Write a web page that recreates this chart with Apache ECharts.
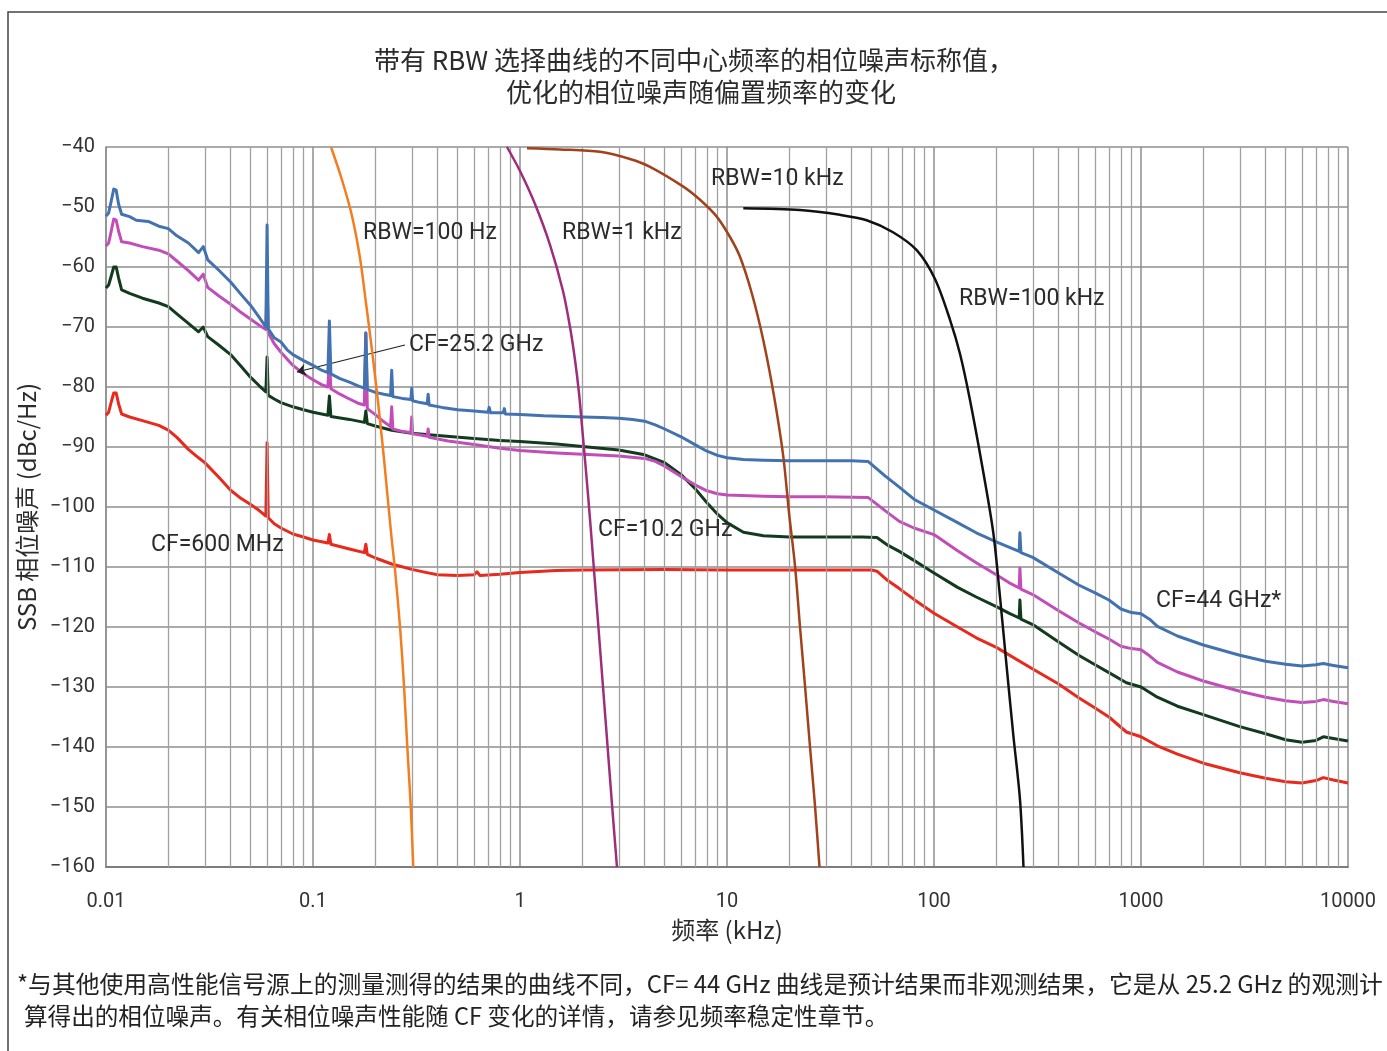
<!DOCTYPE html>
<html>
<head>
<meta charset="utf-8">
<title>相位噪声</title>
<script src="https://cdn.jsdelivr.net/npm/echarts@6/dist/echarts.min.js"></script>
<style>
html,body{margin:0;padding:0;background:#fff;}
#chart{width:1387px;height:1051px;}
</style>
</head>
<body>
<div id="chart"></div>
<script>
// 数据: [偏置频率 (kHz), 相位噪声 (dBc/Hz)]
var xTickLabels = ['0.01', '0.1', '1', '10', '100', '1000', '10000'];

var cf44 = [
  [0.01,-51.5],[0.0103,-51],[0.0106,-49],[0.0109,-47],[0.0112,-47.2],[0.0115,-49.5],[0.0119,-51.2],[0.013,-51.6],[0.014,-52.2],[0.016,-52.4],
  [0.018,-53.2],[0.02,-53.6],[0.022,-54.8],[0.025,-56],[0.028,-57.6],[0.0295,-56.6],[0.031,-58.8],[0.035,-60.5],[0.04,-62.5],[0.045,-64.6],
  [0.05,-66.4],[0.055,-68.4],[0.0592,-70],[0.06,-53],[0.0608,-70.3],[0.065,-71.8],[0.07,-72.5],[0.075,-73.8],[0.08,-74.6],[0.09,-75.6],
  [0.1,-76.4],[0.11,-77.2],[0.118,-77.6],[0.12,-69],[0.122,-77.8],[0.135,-78.6],[0.15,-79.2],[0.165,-79.8],[0.177,-80.2],[0.18,-71],
  [0.183,-80.4],[0.2,-80.9],[0.22,-81.2],[0.237,-81.4],[0.24,-77.2],[0.243,-81.6],[0.27,-81.9],[0.297,-82.1],[0.3,-80.2],[0.303,-82.3],
  [0.33,-82.6],[0.356,-82.8],[0.36,-81.2],[0.364,-83],[0.42,-83.4],[0.5,-83.8],[0.6,-84],[0.7,-84.2],[0.71,-83.4],[0.72,-84.3],
  [0.83,-84.3],[0.84,-83.6],[0.85,-84.5],[1,-84.6],[1.3,-84.8],[1.7,-84.9],[2,-85],[2.5,-85.1],[3,-85.2],[3.5,-85.4],
  [4,-85.7],[4.5,-86.3],[5,-87],[6,-88.3],[7,-89.6],[8,-90.7],[9,-91.4],[10,-91.8],[12,-92.1],[15,-92.2],
  [20,-92.3],[30,-92.3],[40,-92.3],[48,-92.4],[58,-94.8],[68,-96.7],[80,-98.7],[100,-100.5],[130,-102.6],[160,-104.3],
  [200,-105.8],[230,-106.7],[258,-107.4],[260,-104.3],[263,-107.6],[300,-108.4],[400,-111],[500,-113],[600,-114.3],[700,-115.5],
  [800,-117],[900,-117.6],[1000,-117.8],[1100,-118.7],[1200,-119.9],[1500,-121.5],[2000,-123],[3000,-124.7],[4000,-125.7],[5000,-126.2],
  [6000,-126.5],[7000,-126.3],[7600,-126.1],[8500,-126.4],[10000,-126.8]
];

var cf252 = [
  [0.01,-56.5],[0.0103,-56],[0.0106,-54],[0.0109,-52],[0.0112,-52.2],[0.0115,-54],[0.0119,-55.8],[0.013,-56],[0.015,-56.6],[0.018,-57.2],
  [0.02,-57.8],[0.022,-59],[0.025,-60.6],[0.028,-62.2],[0.0295,-61.2],[0.031,-63.4],[0.035,-64.8],[0.04,-66.2],[0.045,-67.6],[0.05,-68.7],
  [0.055,-69.7],[0.0592,-70.4],[0.06,-63],[0.0608,-71],[0.065,-72.8],[0.07,-74.2],[0.08,-76.4],[0.09,-77.8],[0.1,-78.8],[0.11,-79.6],
  [0.118,-80],[0.12,-75],[0.122,-80.3],[0.135,-81.2],[0.15,-82],[0.165,-82.7],[0.177,-83],[0.18,-71],[0.183,-83.6],[0.2,-84.6],
  [0.22,-85.8],[0.237,-86.6],[0.24,-83.3],[0.243,-87],[0.27,-87.4],[0.297,-87.6],[0.3,-85],[0.303,-87.8],[0.33,-88],[0.356,-88.2],
  [0.36,-87],[0.364,-88.4],[0.45,-89],[0.6,-89.6],[0.8,-90.2],[1,-90.6],[1.5,-91],[2,-91.2],[3,-91.5],[4,-91.9],
  [4.5,-92.4],[5,-93.2],[6,-94.9],[7,-96.3],[8,-97.3],[9,-97.8],[10,-98],[15,-98.2],[20,-98.3],[30,-98.3],
  [48,-98.4],[58,-100.6],[68,-102.4],[80,-103.5],[100,-104.6],[130,-107.3],[160,-109.3],[200,-111.3],[230,-112.6],[258,-113.5],
  [260,-110.2],[263,-113.7],[300,-114.6],[400,-117.3],[500,-119.3],[600,-120.8],[700,-122],[800,-123.2],[900,-123.6],[1000,-123.8],
  [1100,-124.8],[1200,-125.9],[1500,-127.5],[2000,-129],[3000,-130.7],[4000,-131.7],[5000,-132.3],[6000,-132.6],[7000,-132.4],[7600,-132.1],
  [8500,-132.4],[10000,-132.8]
];

var cf102 = [
  [0.01,-63.5],[0.0103,-63],[0.0106,-61.5],[0.0109,-60],[0.0112,-60],[0.0115,-61.8],[0.0119,-63.8],[0.013,-64.4],[0.015,-65.2],[0.018,-66],
  [0.02,-66.6],[0.022,-67.8],[0.025,-69.4],[0.028,-70.8],[0.0295,-70],[0.031,-71.6],[0.035,-73],[0.04,-74.6],[0.045,-76.6],[0.05,-78.4],
  [0.055,-79.8],[0.0592,-80.8],[0.06,-75],[0.0608,-81.4],[0.065,-82],[0.07,-82.6],[0.08,-83.3],[0.09,-83.8],[0.1,-84.2],[0.118,-84.7],
  [0.12,-81.5],[0.122,-84.9],[0.15,-85.4],[0.177,-85.9],[0.18,-84],[0.183,-86.1],[0.2,-86.5],[0.24,-87.2],[0.3,-87.7],[0.4,-88.1],
  [0.6,-88.6],[0.8,-88.9],[1,-89.1],[1.5,-89.5],[2,-89.9],[3,-90.5],[4,-91.3],[5,-92.6],[6,-94.6],[7,-96.9],
  [8,-99.3],[9,-101.2],[10,-102.6],[12,-104.2],[15,-104.8],[20,-105],[30,-105],[45,-105],[53,-105.1],[60,-106.4],
  [68,-107.4],[80,-108.9],[100,-111],[130,-113.4],[160,-115],[200,-116.6],[230,-117.7],[258,-118.5],[260,-115.5],[263,-118.7],
  [300,-119.6],[400,-122.5],[500,-124.7],[600,-126.3],[700,-127.6],[850,-129.3],[1000,-130],[1200,-131.7],[1500,-133.2],[2000,-134.6],
  [3000,-136.6],[4000,-137.8],[5000,-138.8],[6000,-139.2],[7000,-138.9],[7600,-138.3],[8500,-138.6],[10000,-139]
];

var cf600m = [
  [0.01,-84.7],[0.0103,-84.2],[0.0106,-82.5],[0.0109,-81],[0.0112,-81],[0.0115,-82.8],[0.0119,-84.5],[0.013,-85],[0.015,-85.6],[0.018,-86.4],
  [0.02,-87.2],[0.022,-88.4],[0.025,-90.4],[0.028,-91.8],[0.03,-92.6],[0.035,-95],[0.04,-97.2],[0.045,-98.6],[0.05,-99.6],[0.055,-100.6],
  [0.0592,-101.5],[0.06,-89.3],[0.0608,-101.8],[0.065,-102.8],[0.07,-103.5],[0.08,-104.5],[0.09,-105],[0.1,-105.5],[0.118,-106],[0.12,-104.6],
  [0.122,-106.2],[0.15,-107],[0.177,-107.6],[0.18,-106.2],[0.183,-107.9],[0.2,-108.5],[0.24,-109.5],[0.3,-110.4],[0.35,-110.9],[0.4,-111.3],
  [0.5,-111.4],[0.6,-111.3],[0.62,-110.8],[0.64,-111.4],[0.8,-111.2],[1,-110.9],[1.5,-110.6],[2,-110.5],[5,-110.4],[10,-110.5],
  [20,-110.5],[50,-110.5],[53,-110.7],[60,-112.3],[68,-113.6],[80,-115.4],[100,-117.7],[130,-120],[160,-121.8],[200,-123.4],
  [300,-127],[400,-129.5],[500,-131.8],[600,-133.5],[700,-135],[850,-137.5],[1000,-138.3],[1200,-139.8],[1500,-141.2],[2000,-142.7],
  [3000,-144.3],[4000,-145.2],[5000,-145.8],[6000,-146],[7000,-145.6],[7600,-145.1],[8500,-145.5],[10000,-146]
];

// RBW 选择曲线
var rbw100Hz = [
  [0.1222,-40],[0.1381,-45.5],[0.1543,-51.5],[0.1687,-58.5],[0.1803,-66],[0.1906,-72.5],[0.2015,-79.5],[0.2107,-85.5],[0.2203,-92],
  [0.2303,-99],[0.2394,-105],[0.249,-110.5],[0.2633,-120],[0.2752,-129.8],[0.2855,-140],[0.2965,-149.8],[0.3051,-160]
];
var rbw1k = [
  [0.8653,-40],[1.0,-44],[1.1815,-49.5],[1.396,-56.3],[1.6131,-64],[1.7442,-70],[1.844,-75.5],[1.9275,-81],[1.9929,-86.5],
  [2.0835,-94],[2.1786,-102],[2.2777,-110.5],[2.4352,-123.5],[2.6032,-136.5],[2.7815,-149.5],[2.941,-160]
];
var rbw10k = [
  [1.0809,-40.2],[1.5607,-40.4],[2.435,-40.8],[3.3998,-42],[4.2462,-43.3],[6.1507,-46.6],[7.408,-48.8],[8.9195,-51.6],[10.339,-55],
  [11.555,-58.3],[13.207,-64.5],[14.975,-72.2],[16.87,-81.5],[18.709,-91.6],[19.936,-101],[21.309,-109.8],[22.527,-120],[23.815,-129.8],
  [25.177,-140],[26.617,-149.8],[27.98,-160]
];
var rbw100k = [
  [11.987,-50.2],[22.527,-50.5],[35.15,-51.3],[47.3,-52.2],[63.38,-54.2],[82.49,-57.2],[101.1,-62],[119.5,-68.8],[133.6,-74.5],
  [149.3,-82.2],[170.6,-93],[193.4,-104.3],[208.4,-115],[224.5,-126.7],[241.6,-138],[260.3,-148.8],[270.6,-160]
];

// 对数坐标的次网格线 (2..9 × 10^n)
var minorGrid = [];
for (var e = -2; e < 4; e++) {
  for (var m = 2; m <= 9; m++) {
    minorGrid.push({ xAxis: +(m * Math.pow(10, e)).toPrecision(3) });
  }
}

var myChart = echarts.init(document.getElementById('chart'));

var txt = '#2b2b2b';
var cjk = '"Noto Sans CJK SC", "Noto Sans", sans-serif';
var latin = 'Roboto, "Noto Sans", sans-serif';

function lineSeries(name, data, color, width, z, smooth) {
  return {
    name: name,
    type: 'line',
    data: data,
    showSymbol: false,
    symbol: 'none',
    smooth: smooth || false,
    z: z,
    lineStyle: { color: color, width: width, join: 'round' },
    emphasis: { disabled: true }
  };
}

function label(text, x, y, font, align, color) {
  return {
    type: 'text',
    x: x,
    y: y,
    silent: true,
    style: { text: text, fill: color || txt, font: font, align: align || 'left', verticalAlign: 'middle' },
    z: 100
  };
}

var f23 = '23px ' + latin;

var option = {
  animation: false,
  backgroundColor: '#fff',
  grid: { left: 106, right: 39, top: 147, bottom: 184 },
  xAxis: {
    type: 'log',
    logBase: 10,
    min: 0.01,
    max: 10000,
    splitNumber: 6,
    name: '频率 (kHz)',
    nameLocation: 'middle',
    nameGap: 51,
    nameTextStyle: { color: txt, fontSize: 24, fontFamily: cjk },
    axisLine: { show: true, lineStyle: { color: '#7d7d7d', width: 2 } },
    axisTick: { show: false },
    axisLabel: {
      color: '#333', fontSize: 20, fontFamily: latin, margin: 25,
      formatter: function (v, i) { return xTickLabels[i] || ''; }
    },
    splitLine: { show: true, lineStyle: { color: '#8e8e8e', width: 1.5 } }
  },
  yAxis: {
    type: 'value',
    min: -160,
    max: -40,
    interval: 10,
    name: 'SSB 相位噪声 (dBc/Hz)',
    nameLocation: 'middle',
    nameGap: 63,
    nameRotate: 90,
    nameTextStyle: { color: txt, fontSize: 24, fontFamily: cjk },
    axisLine: { show: true, lineStyle: { color: '#8e8e8e', width: 1.5 } },
    axisTick: { show: false },
    axisLabel: {
      color: '#333', fontSize: 20, fontFamily: latin, margin: 11,
      formatter: function (v) { return String(v).replace('-', '\u2212'); }
    },
    splitLine: { show: true, lineStyle: { color: '#8e8e8e', width: 1.5 } }
  },
  graphic: [
    { type: 'rect', shape: { x: 8, y: 12, width: 1420, height: 1080 }, style: { fill: 'none', stroke: '#444', lineWidth: 1.5 }, silent: true },
    label('带有 RBW 选择曲线的不同中心频率的相位噪声标称值，', 694, 60, '26px ' + cjk, 'center'),
    label('优化的相位噪声随偏置频率的变化', 701, 92, '26px ' + cjk, 'center'),
    label('RBW=100 Hz', 363, 233, f23),
    label('RBW=1 kHz', 562, 233, f23),
    label('RBW=10 kHz', 711, 179, f23),
    label('RBW=100 kHz', 959, 299, f23),
    label('CF=25.2 GHz', 409, 345, f23),
    label('CF=600 MHz', 151, 545, f23),
    label('CF=10.2 GHz', 598, 530, f23),
    label('CF=44 GHz*', 1156, 601, f23),
    label('*与其他使用高性能信号源上的测量测得的结果的曲线不同，CF= 44 GHz 曲线是预计结果而非观测结果，它是从 25.2 GHz 的观测计',
          17, 984, '23.8px ' + cjk, 'left', '#222'),
    label('算得出的相位噪声。有关相位噪声性能随 CF 变化的详情，请参见频率稳定性章节。',
          24, 1016, '23.6px ' + cjk, 'left', '#222')
  ],
  series: [
    {
      name: 'minor-grid',
      type: 'line',
      data: [],
      z: 1,
      silent: true,
      markLine: {
        silent: true,
        symbol: ['none', 'none'],
        label: { show: false },
        lineStyle: { type: 'solid', color: '#a0a0a0', width: 1.3 },
        emphasis: { disabled: true },
        data: minorGrid
      }
    },
    lineSeries('CF=600 MHz', cf600m, '#e8291c', 3, 3),
    lineSeries('CF=10.2 GHz', cf102, '#123b1e', 3, 3),
    lineSeries('CF=25.2 GHz', cf252, '#c24db8', 3, 4),
    lineSeries('CF=44 GHz', cf44, '#4372b0', 3, 5),
    lineSeries('RBW=100 Hz', rbw100Hz, '#f47d20', 2.5, 6, 0.3),
    lineSeries('RBW=1 kHz', rbw1k, '#9c2e7c', 2.5, 6, 0.3),
    lineSeries('RBW=10 kHz', rbw10k, '#a2421c', 2.5, 6, 0.3),
    lineSeries('RBW=100 kHz', rbw100k, '#111111', 2.5, 6, 0.3),
    {
      name: 'arrow',
      type: 'line',
      data: [],
      z: 7,
      silent: true,
      markLine: {
        silent: true,
        symbol: ['none', 'arrow'],
        symbolSize: 9,
        label: { show: false },
        lineStyle: { type: 'solid', color: '#222', width: 1.2 },
        emphasis: { disabled: true },
        data: [[{ coord: [0.278, -73] }, { coord: [0.0836, -77.5] }]]
      }
    }
  ]
};

myChart.setOption(option);
</script>
</body>
</html>
